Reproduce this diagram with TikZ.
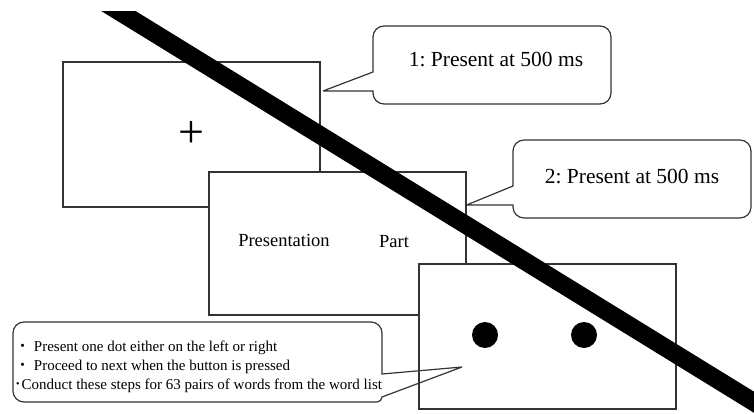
\documentclass[tikz,border=0pt]{standalone}
\usepackage{fontspec}
\setmainfont{Liberation Serif}
\newfontfamily\cjk{Noto Sans CJK JP}
\usetikzlibrary{positioning}
\frenchspacing
\tikzstyle{screen}=   [draw=black!80, fill=white, line width=1.2pt, minimum width=257pt, minimum height=145pt, inner sep=0pt]
\tikzstyle{callout}=  [draw=black!80, line width=1.2pt]
\tikzstyle{bigtext}=  [font=\fontsize{21.5}{24}\selectfont]
\tikzstyle{midtext}=  [font=\fontsize{18.5}{21}\selectfont]
\tikzstyle{notetext}= [font=\fontsize{15}{17}\selectfont, anchor=base west, inner sep=0pt]
\tikzstyle{dot}=      [circle, fill=black, minimum size=26pt, inner sep=0pt]

\begin{document}
\begin{tikzpicture}[x=1pt,y=-1pt]
 \useasboundingbox (0,0) rectangle (754,414);

 % the three screens
 \node[screen] (scr1) at (191.5,134.5) {};
 \node[font=\fontsize{46}{46}\selectfont, inner sep=0pt] (fix) at (scr1.center) {+};
 \node[screen, minimum height=143pt] (scr2) at (337.5,243.5) {};
 \node[midtext] (pres) at (284,240) {Presentation};
 \node[midtext] (part) at (394,242) {Part};
 \node[screen] (scr3) at (547.5,336.5) {};
 \node[dot] (dotL) at (485,335) {};
 \node[dot] (dotR) at (584,335) {};

 % callouts
 \coordinate (tip1) at (323,91);
 \draw[callout] (tip1) -- (373,91) [rounded corners=11pt] -- (373,104) -- (611,104) -- (611,26) -- (373,26) [sharp corners] -- (373,72) -- (tip1);
 \node[bigtext] (note1) at (496,60) {1: Present at 500 ms};

 \coordinate (tip2) at (scr2.east |- 0,205);
 \draw[callout] (tip2) -- (513,205) [rounded corners=11pt] -- (513,218) -- (751,218) -- (751,140) -- (513,140) [sharp corners] -- (513,186) -- (tip2);
 \node[bigtext] (note2) at (632,177) {2: Present at 500 ms};

 \coordinate (tip3) at (462,367);
 \draw[callout] (tip3) -- (382,374) [rounded corners=11pt] -- (382,322) -- (13,322) -- (13,402) [rounded corners=5pt] -- (382,402) [sharp corners] -- (382,397) -- (tip3);
 \node[notetext] (line1) at (15,351) {{\cjk ・} Present one dot either on the left or right};
 \node[notetext] (line2) at (15,370) {{\cjk ・} Proceed to next when the button is pressed};
 \node[notetext] (line3) at (14,389) {{\cjk ･}Conduct these steps for 63 pairs of words from the word list};

 % crossing bar
 \begin{scope}
  \clip (0,12) rectangle (754,414);
  \draw[black, line width=18pt] (56.6,-27) -- (817,441);
 \end{scope}
\end{tikzpicture}
\end{document}
